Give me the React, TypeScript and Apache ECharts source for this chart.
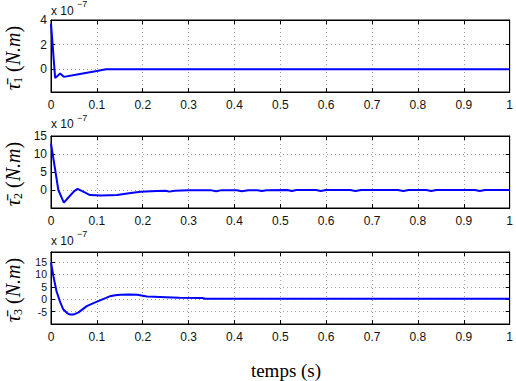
import React, { useEffect, useRef } from 'react';
import * as echarts from 'echarts';

// Torque 1 (x 1e-7 N.m)
const t1 = [0, 0.009, 0.02, 0.028, 0.06, 0.1, 0.12, 0.3, 0.6, 1];
const v1 = [3.7, -0.71, -0.35, -0.62, -0.4, -0.14, 0, 0, 0, 0];

// Torque 2
const t2 = [0, 0.008, 0.016, 0.028, 0.04, 0.05, 0.058, 0.068, 0.085, 0.11, 0.144, 0.17, 0.195, 0.23,
  0.25, 0.258, 0.27, 0.3, 0.35, 0.36, 0.37, 0.405, 0.416, 0.43, 0.45, 0.46, 0.47, 0.515, 0.525, 0.535,
  0.578, 0.588, 0.6, 0.652, 0.664, 0.676, 0.756, 0.768, 0.78, 0.818, 0.829, 0.84, 0.924, 0.935, 0.946, 1];
const v2 = [12.9, 6.5, 0, -3.5, -1.8, -0.4, 0.3, -0.3, -1.4, -1.5, -1.4, -0.9, -0.5, -0.3,
  -0.2, -0.45, -0.2, -0.1, -0.1, -0.35, -0.1, -0.05, -0.35, -0.05, -0.05, -0.3, -0.05, 0, -0.3, 0,
  0, -0.3, 0, 0, -0.3, 0, 0, -0.3, 0, 0, -0.3, 0, 0, -0.3, 0, 0];

// Torque 3
const t3 = [0, 0.006, 0.012, 0.02, 0.027, 0.035, 0.042, 0.049, 0.06, 0.078, 0.095, 0.107, 0.12, 0.129,
  0.14, 0.151, 0.17, 0.188, 0.2, 0.209, 0.225, 0.25, 0.28, 0.33, 0.336, 0.6, 1];
const v3 = [14.7, 8.5, 3.2, -1.2, -4.2, -5.6, -6.2, -6.2, -5.3, -2.8, -1.4, -0.5, 0.5, 1.2,
  1.6, 1.8, 1.9, 1.8, 1.4, 1.1, 1.0, 0.8, 0.55, 0.5, 0.15, 0.15, 0.15];

const xTickLabels = ['0', '0.1', '0.2', '0.3', '0.4', '0.5', '0.6', '0.7', '0.8', '0.9', '1'];
const yTicks1 = [0, 2, 4];
const yTicks2 = [0, 5, 10, 15];
const yTicks3 = [-5, 0, 5, 10, 15];
const ySubscripts = ['1', '2', '3'];
const yTitleSymbol = 'τ̄';
const yTitleUnit = 'N.m';
const xTitle = 'temps (s)';
const scaleText = 'x 10';
const scaleExp = '−7';

const series = [
  { t: t1, v: v1 },
  { t: t2, v: v2 },
  { t: t3, v: v3 },
];

const grids = [
  { left: 51, width: 460, top: 20, height: 72 },
  { left: 51, width: 460, top: 136, height: 72 },
  { left: 51, width: 460, top: 252, height: 72 },
];

const yScales: any[] = [
  { min: -1.85, max: 4, splitNumber: 3, ticks: yTicks1, fs: 12, lh: 14 },
  { min: -5, max: 15, interval: 5, ticks: yTicks2, fs: 12, lh: 14 },
  { min: -10, max: 19, interval: 5, ticks: yTicks3, fs: 10.5, lh: 10 },
];

const scaleLabelY = [11.5, 125, 241.5];

export default function App() {
  const ref = useRef<HTMLDivElement>(null);
  useEffect(() => {
    if (!ref.current) return;
    const chart = echarts.init(ref.current, null, { renderer: 'svg' });
    const labelFont = { fontSize: 12, fontFamily: 'Liberation Sans', color: '#111' };
    const grid = { color: '#a0a0a0', type: [1, 3], width: 1 };
    const line = { show: true, onZero: false, lineStyle: { color: '#000', width: 1 } };
    const tick = { show: true, inside: true, length: 4, lineStyle: { color: '#000' } };
    const xAxis: any[] = [];
    const yAxis: any[] = [];
    grids.forEach((_, i) => {
      xAxis.push({
        type: 'value', gridIndex: i, min: 0, max: 1, interval: 0.1, position: 'bottom',
        axisLine: line, axisTick: tick,
        axisLabel: {
          ...labelFont, margin: 7,
          formatter: (v: number) => xTickLabels[Math.round(v * 10)] ?? '',
        },
        splitLine: { show: true, lineStyle: grid },
      });
      xAxis.push({
        type: 'value', gridIndex: i, min: 0, max: 1, interval: 0.1, position: 'top',
        axisLine: line, axisTick: tick,
        axisLabel: { show: false },
        splitLine: { show: false },
      });
      const ys = yScales[i];
      const base: any = { type: 'value', gridIndex: i, min: ys.min, max: ys.max };
      if (ys.interval) base.interval = ys.interval;
      if (ys.splitNumber) base.splitNumber = ys.splitNumber;
      yAxis.push({
        ...base, position: 'left',
        axisLine: line, axisTick: tick,
        axisLabel: {
          ...labelFont, fontSize: ys.fs, margin: 4, lineHeight: ys.lh,
          formatter: (v: number) => {
            const t = ys.ticks.find((k: number) => Math.abs(k - v) < 1e-6);
            return t === undefined ? '' : (t < 0 ? '-' + Math.abs(t) : String(t));
          },
        },
        splitLine: { show: true, lineStyle: grid },
      });
      yAxis.push({
        ...base, position: 'right',
        axisLine: line, axisTick: tick,
        axisLabel: { show: false },
        splitLine: { show: false },
      });
    });

    const graphic: any[] = [];
    grids.forEach((g, i) => {
      graphic.push({
        type: 'text', left: g.left, top: scaleLabelY[i] - 7,
        style: { text: scaleText, fontSize: 12, fontFamily: 'Liberation Sans', fill: '#111' },
      });
      graphic.push({
        type: 'text', left: g.left + 26, top: scaleLabelY[i] - 12,
        style: { text: scaleExp, fontSize: 9, fontFamily: 'Liberation Sans', fill: '#111' },
      });
      graphic.push({
        type: 'text', x: 13, y: g.top + g.height / 2 + 2, rotation: Math.PI / 2,
        style: {
          text: `{t|${yTitleSymbol}}{s|${ySubscripts[i]}}{p| (}{n|${yTitleUnit}}{p|)}`,
          align: 'center', verticalAlign: 'middle',
          rich: {
            t: { fontSize: 20, fontStyle: 'italic', fontFamily: 'Liberation Serif', fill: '#000', lineHeight: 22, verticalAlign: 'middle' },
            s: { fontSize: 12, fontFamily: 'Liberation Serif', fill: '#000', lineHeight: 22, verticalAlign: 'bottom' },
            p: { fontSize: 20, fontFamily: 'Liberation Serif', fill: '#000', lineHeight: 22, verticalAlign: 'middle' },
            n: { fontSize: 20, fontStyle: 'italic', fontFamily: 'Liberation Serif', fill: '#000', lineHeight: 22, verticalAlign: 'middle' },
          },
        },
      });
    });
    graphic.push({
      type: 'text', x: 286, y: 370,
      style: {
        text: xTitle, fontSize: 19, fontFamily: 'Liberation Serif', fill: '#000',
        align: 'center', verticalAlign: 'middle',
      },
    });

    chart.setOption({
      animation: false,
      backgroundColor: '#fff',
      grid: grids.map((g) => ({ ...g, show: true, borderColor: '#000', borderWidth: 1, backgroundColor: 'transparent' })),
      xAxis,
      yAxis,
      graphic,
      series: series.map((s, i) => ({
        type: 'line',
        xAxisIndex: i * 2,
        yAxisIndex: i * 2,
        data: s.t.map((t, k) => [t, s.v[k]]),
        showSymbol: false,
        smooth: false,
        lineStyle: { color: '#0000ff', width: 2 },
        clip: true,
      })),
    });
    return () => chart.dispose();
  }, []);
  return <div ref={ref} style={{ width: 516, height: 381, position: 'absolute', left: 0, top: 0 }} />;
}
